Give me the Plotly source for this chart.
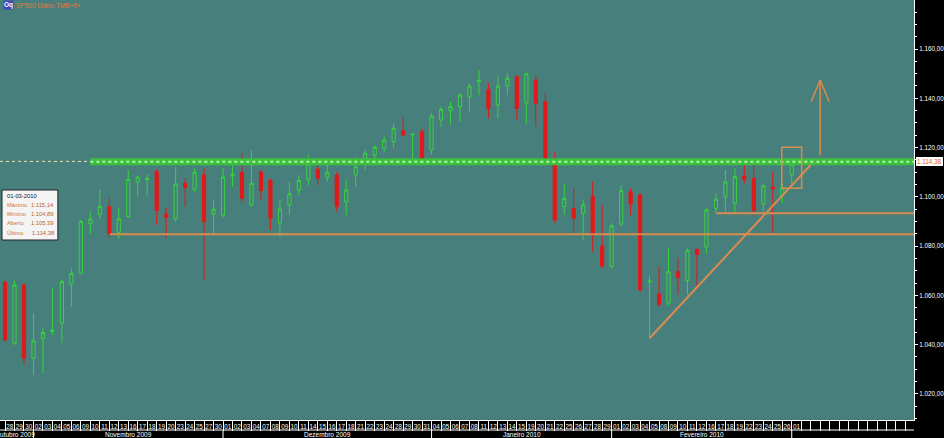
import plotly.graph_objects as go
import datetime as dt

# ---------------- data ----------------
dates = [
    "2009-10-27", "2009-10-28", "2009-10-29", "2009-10-30",
    "2009-11-02", "2009-11-03", "2009-11-04", "2009-11-05", "2009-11-06",
    "2009-11-09", "2009-11-10", "2009-11-11", "2009-11-12", "2009-11-13",
    "2009-11-16", "2009-11-17", "2009-11-18", "2009-11-19", "2009-11-20",
    "2009-11-23", "2009-11-24", "2009-11-25", "2009-11-27", "2009-11-30",
    "2009-12-01", "2009-12-02", "2009-12-03", "2009-12-04", "2009-12-07",
    "2009-12-08", "2009-12-09", "2009-12-10", "2009-12-11", "2009-12-14",
    "2009-12-15", "2009-12-16", "2009-12-17", "2009-12-18", "2009-12-21",
    "2009-12-22", "2009-12-23", "2009-12-24", "2009-12-28", "2009-12-29",
    "2009-12-30", "2009-12-31",
    "2010-01-04", "2010-01-05", "2010-01-06", "2010-01-07", "2010-01-08",
    "2010-01-11", "2010-01-12", "2010-01-13", "2010-01-14", "2010-01-15",
    "2010-01-19", "2010-01-20", "2010-01-21", "2010-01-22", "2010-01-25",
    "2010-01-26", "2010-01-27", "2010-01-28", "2010-01-29",
    "2010-02-01", "2010-02-02", "2010-02-03", "2010-02-04", "2010-02-05",
    "2010-02-08", "2010-02-09", "2010-02-10", "2010-02-11", "2010-02-12",
    "2010-02-16", "2010-02-17", "2010-02-18", "2010-02-19", "2010-02-22",
    "2010-02-23", "2010-02-24", "2010-02-25", "2010-02-26",
    "2010-03-01",
]

opens = [
    1067.5, 1065.2, 1040.6, 1064.2,
    1034.5, 1042.6, 1045.3, 1048.7, 1064.6,
    1069.0, 1089.0, 1093.0, 1096.0, 1085.5,
    1092.0, 1106.0, 1107.0, 1110.2, 1093.0,
    1091.0, 1105.5, 1103.0, 1108.9, 1093.0,
    1092.6, 1108.6, 1110.0, 1096.7, 1110.0,
    1106.6, 1089.3, 1096.7, 1102.8, 1107.1,
    1111.3, 1107.9, 1108.9, 1098.0, 1108.9,
    1113.3, 1117.0, 1119.7, 1122.4, 1126.8,
    1125.2, 1126.4,
    1119.0, 1131.2, 1135.0, 1136.6, 1140.6,
    1146.8, 1143.6, 1137.3, 1145.0, 1148.8,
    1138.2, 1147.4, 1138.6, 1112.9, 1096.0,
    1095.3, 1093.3, 1100.1, 1080.0,
    1071.7, 1089.0, 1102.1, 1100.7, 1065.4,
    1060.6, 1056.8, 1069.6, 1066.0, 1078.6,
    1079.6, 1095.3, 1100.0, 1097.4, 1108.5,
    1107.5, 1097.1, 1104.0, 1100.7,
    1108.9,
]
highs = [
    1072.5, 1066.0, 1066.0, 1065.0,
    1052.7, 1046.6, 1062.9, 1066.3, 1071.0,
    1090.5, 1094.0, 1103.0, 1099.5, 1095.5,
    1111.0, 1108.5, 1109.0, 1111.3, 1095.5,
    1112.2, 1107.6, 1111.5, 1111.7, 1098.7,
    1111.7, 1115.0, 1117.8, 1119.0, 1110.9,
    1107.5, 1098.7, 1106.2, 1108.9, 1117.0,
    1114.3, 1115.0, 1110.2, 1106.8, 1116.0,
    1119.0, 1121.0, 1124.5, 1130.0, 1132.5,
    1125.8, 1127.8,
    1133.9, 1136.6, 1138.6, 1142.3, 1146.0,
    1151.5, 1146.3, 1148.8, 1150.1, 1149.4,
    1150.4, 1149.4, 1142.0, 1118.3, 1105.5,
    1103.5, 1098.7, 1106.2, 1096.7,
    1089.3, 1104.8, 1103.5, 1101.5, 1068.0,
    1071.7, 1079.0, 1075.0, 1079.1, 1079.1,
    1095.5, 1101.4, 1110.9, 1111.6, 1115.0,
    1115.0, 1105.5, 1110.2, 1105.5,
    1115.14,
]
lows = [
    1060.6, 1041.5, 1039.9, 1031.8,
    1027.6, 1028.4, 1044.0, 1040.6, 1055.4,
    1069.0, 1085.0, 1091.0, 1083.5, 1083.0,
    1091.5, 1100.0, 1100.5, 1088.6, 1083.3,
    1090.0, 1096.0, 1102.0, 1066.3, 1084.5,
    1091.5, 1104.0, 1098.0, 1096.0, 1098.7,
    1086.5, 1083.8, 1092.6, 1100.7, 1104.8,
    1104.8, 1106.1, 1094.0, 1092.6, 1104.0,
    1111.0, 1114.0, 1118.0, 1120.0, 1124.4,
    1115.6, 1114.5,
    1117.0, 1128.5, 1129.2, 1130.5, 1134.6,
    1141.3, 1131.9, 1131.9, 1141.3, 1131.2,
    1129.8, 1128.5, 1115.0, 1089.3, 1092.6,
    1084.5, 1082.5, 1077.7, 1071.0,
    1071.0, 1088.0, 1092.6, 1061.5, 1042.8,
    1055.4, 1055.8, 1060.8, 1060.2, 1063.0,
    1077.0, 1093.3, 1094.0, 1093.3, 1105.5,
    1092.0, 1094.0, 1085.2, 1097.4,
    1105.5,
]
closes = [
    1063.4, 1041.9, 1064.2, 1034.5,
    1041.5, 1044.9, 1045.9, 1065.6, 1069.0,
    1090.0, 1091.0, 1096.0, 1085.0, 1091.0,
    1107.0, 1108.0, 1107.5, 1094.4, 1091.7,
    1105.2, 1103.7, 1110.0, 1089.9, 1095.0,
    1108.0, 1109.1, 1099.4, 1105.5, 1102.5,
    1091.3, 1095.0, 1101.2, 1106.6, 1113.3,
    1107.5, 1109.8, 1096.0, 1102.8, 1112.2,
    1117.7, 1120.1, 1123.0, 1127.8, 1125.1,
    1125.4, 1115.0,
    1132.8, 1135.5, 1136.6, 1141.3, 1145.0,
    1147.2, 1135.9, 1145.0, 1148.1, 1135.9,
    1149.9, 1138.0, 1115.6, 1090.6, 1099.4,
    1091.3, 1096.7, 1084.5, 1071.9,
    1088.2, 1102.5, 1097.1, 1062.2, 1065.8,
    1056.3, 1069.6, 1067.3, 1078.2, 1076.6,
    1094.7, 1099.0, 1106.1, 1108.2, 1107.1,
    1094.4, 1104.4, 1103.2, 1103.5,
    1113.0,
]

last_date = "01-03-2010"
last_info = [("Máximo", 1115.14), ("Mínimo", 1104.89), ("Aberto", 1105.39), ("Último", 1114.38)]
last_price = 1114.38

y_ticks = [1020, 1040, 1060, 1080, 1100, 1120, 1140, 1160]

month_names = {1: "Janeiro", 2: "Fevereiro", 3: "Março", 10: "Outubro",
               11: "Novembro", 12: "Dezembro"}

# drawn annotations (in price / bar-index terms)
support_low = 1084.8
support_high = 1093.3
resistance = 1114.2
trend_start = (68, 1042.6)
trend_end = (85, 1112.9)
box_x = (81.95, 84.05)
box_y = (1103.5, 1120.1)
arrow_x = 86
arrow_y = (1117.0, 1147.4)
arrow_head_y = 1138.6

# ---------------- helpers ----------------
def fmt_br(v):
    s = f"{v:,.2f}"
    return s.replace(",", "X").replace(".", ",").replace("X", ".")

n = len(dates)
xs = [i - 1 for i in range(n)]          # first date sits just left of the frame
dobj = [dt.date.fromisoformat(d) for d in dates]

TEAL = "#477f7c"
GREEN = "#36d43b"
RED = "#e01a1a"
ORANGE = "#d98c50"
FONT = "Liberation Sans"

X0, X1 = -0.53, 95.9
Y0, Y1 = 1009.4, 1179.9
PW, PH = 916, 420

fig = go.Figure()

fig.add_trace(go.Candlestick(
    x=xs, open=opens, high=highs, low=lows, close=closes,
    increasing=dict(line=dict(color=GREEN, width=1), fillcolor="rgba(0,0,0,0)"),
    decreasing=dict(line=dict(color=RED, width=1), fillcolor=RED),
    whiskerwidth=0, showlegend=False, hoverinfo="skip",
))

shapes = []
# last price dotted line (left part) and green resistance band
shapes.append(dict(type="line", xref="x", yref="y", x0=X0, x1=9, y0=last_price, y1=last_price,
                   line=dict(color="#e9e3a8", width=1, dash="dot")))
shapes.append(dict(type="line", xref="x", yref="y", x0=9, x1=X1, y0=resistance, y1=resistance,
                   line=dict(color="#3cbf3c", width=7)))
shapes.append(dict(type="line", xref="x", yref="y", x0=9, x1=X1, y0=resistance, y1=resistance,
                   line=dict(color="#a9f5a2", width=2, dash="dot")))
# supports
shapes.append(dict(type="line", xref="x", yref="y", x0=11.05, x1=X1, y0=support_low, y1=support_low,
                   line=dict(color=ORANGE, width=2)))
shapes.append(dict(type="line", xref="x", yref="y", x0=75.05, x1=X1, y0=support_high, y1=support_high,
                   line=dict(color=ORANGE, width=2)))
# trend line
shapes.append(dict(type="line", xref="x", yref="y", x0=trend_start[0], y0=trend_start[1],
                   x1=trend_end[0], y1=trend_end[1], line=dict(color=ORANGE, width=2)))
# box around last candle
shapes.append(dict(type="rect", xref="x", yref="y", x0=box_x[0], x1=box_x[1], y0=box_y[0], y1=box_y[1],
                   line=dict(color=ORANGE, width=1.5)))
# arrow
shapes.append(dict(type="line", xref="x", yref="y", x0=arrow_x, x1=arrow_x, y0=arrow_y[0], y1=arrow_y[1],
                   line=dict(color=ORANGE, width=1.5)))
shapes.append(dict(type="line", xref="x", yref="y", x0=arrow_x - 0.95, x1=arrow_x, y0=arrow_head_y, y1=arrow_y[1],
                   line=dict(color=ORANGE, width=1.5)))
shapes.append(dict(type="line", xref="x", yref="y", x0=arrow_x + 0.95, x1=arrow_x, y0=arrow_head_y, y1=arrow_y[1],
                   line=dict(color=ORANGE, width=1.5)))

# bottom axis: line between day row and month row
shapes.append(dict(type="line", xref="paper", yref="paper", x0=0, x1=1, y0=-10 / PH, y1=-10 / PH,
                   line=dict(color="white", width=1)))

annotations = []
# month labels and separators
month_starts = []
for i, d in enumerate(dobj):
    if i == 0 or d.month != dobj[i - 1].month:
        month_starts.append((xs[i], d))
for k, (xi, d) in enumerate(month_starts):
    if k + 1 < len(month_starts):
        nxt = month_starts[k + 1][0]
        if k > 0:
            shapes.append(dict(type="line", xref="x", yref="paper", x0=xi, x1=xi,
                               y0=-10 / PH, y1=-18 / PH, line=dict(color="white", width=1)))
        annotations.append(dict(x=(xi + nxt) / 2, y=-14.5 / PH, xref="x", yref="paper",
                                text=f"{month_names[d.month]} {d.year}", showarrow=False,
                                font=dict(color="white", size=6.5, family=FONT),
                                xanchor="center", yanchor="middle"))
    else:
        shapes.append(dict(type="line", xref="x", yref="paper", x0=xi, x1=xi,
                           y0=-10 / PH, y1=-18 / PH, line=dict(color="white", width=1)))

# info box
def px(xp):
    return xp / PW

def py(yp):
    return 1 - yp / PH

shapes.append(dict(type="rect", xref="paper", yref="paper", x0=px(2), x1=px(58), y0=py(190), y1=py(240),
                   fillcolor="#f4f4f4", line=dict(color="#222222", width=1)))
annotations.append(dict(x=px(5), y=py(195.5), xref="paper", yref="paper", text=last_date,
                        showarrow=False, xanchor="left", yanchor="middle",
                        font=dict(color="#111111", size=5.8, family=FONT)))
for k, (lab, val) in enumerate(last_info):
    yy = py(205 + k * 9.2)
    annotations.append(dict(x=px(5), y=yy, xref="paper", yref="paper", text=lab, showarrow=False,
                            xanchor="left", yanchor="middle",
                            font=dict(color="#d0742e", size=5.8, family=FONT)))
    annotations.append(dict(x=px(56), y=yy, xref="paper", yref="paper", text=fmt_br(val), showarrow=False,
                            xanchor="right", yanchor="middle",
                            font=dict(color="#c0602a", size=5.8, family=FONT)))

# title
annotations.append(dict(x=px(3), y=py(5.5), xref="paper", yref="paper", text="<b>Oq</b>", showarrow=False,
                        xanchor="left", yanchor="middle", bgcolor="#3a48b8", borderpad=0,
                        font=dict(color="white", size=6.5, family=FONT)))
annotations.append(dict(x=px(14), y=py(5.5), xref="paper", yref="paper", text="SP500 Diário TMB+0+",
                        showarrow=False, xanchor="left", yanchor="middle",
                        font=dict(color="#e07a3a", size=6.5, family=FONT)))

# last price tag on the right axis
annotations.append(dict(x=1.002, y=last_price, xref="paper", yref="y", text=fmt_br(last_price),
                        showarrow=False, xanchor="left", yanchor="middle", bgcolor="white",
                        bordercolor="#dddddd", borderwidth=0, borderpad=1,
                        font=dict(color="#e0602a", size=6.3, family=FONT)))

tickvals_x = [x + 0.5 for x in xs]
ticktext_x = [f"{d.day:02d}" for d in dobj]

fig.update_layout(
    width=944, height=438,
    margin=dict(l=0, r=28, t=0, b=18),
    paper_bgcolor="black", plot_bgcolor=TEAL,
    shapes=shapes, annotations=annotations,
    showlegend=False, boxgap=0.52,
    xaxis=dict(
        range=[X0, X1], rangeslider=dict(visible=False),
        showgrid=False, zeroline=False,
        tickvals=tickvals_x, ticktext=ticktext_x, tickangle=0,
        tickfont=dict(color="white", size=6.3, family=FONT),
        ticks="", showline=True, linecolor="white", linewidth=1,
        minor=dict(ticks="outside", tickmode="linear", tick0=0, dtick=1, ticklen=10,
                   tickcolor="white", tickwidth=1, showgrid=False),
    ),
    yaxis=dict(
        side="right", range=[Y0, Y1], showgrid=False, zeroline=False,
        tickvals=y_ticks, ticktext=[fmt_br(v) for v in y_ticks],
        tickfont=dict(color="white", size=6.3, family=FONT),
        ticks="outside", ticklen=3, tickcolor="white",
        showline=True, linecolor="white", linewidth=1,
        minor=dict(ticks="outside", dtick=5, tick0=0, ticklen=2, tickcolor="white", showgrid=False),
    ),
)

fig.write_html("out.html", config={"displayModeBar": False},
               post_script="document.body.style.margin='0';document.body.style.overflow='hidden';")
